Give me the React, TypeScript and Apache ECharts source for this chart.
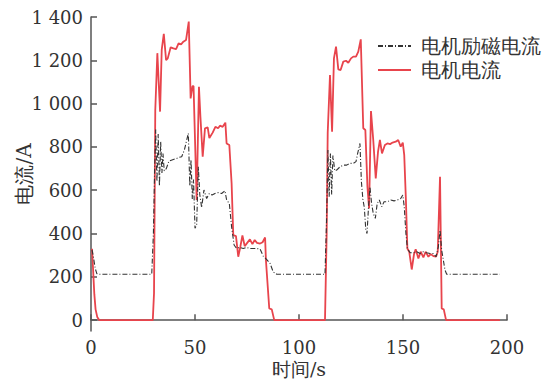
import React, { useEffect, useRef } from "react";
import * as echarts from "echarts";

const xTicks = [0, 50, 100, 150, 200];
const yTicks = [0, 200, 400, 600, 800, 1000, 1200, 1400];

const seriesNames = ["电机励磁电流", "电机电流"];

// 电机电流 (red)
const motorTime = [0.5,1.6,2.2,3,4,29.7,30.3,30.9,31.9,33.2,34,35,36.1,36.9,38.3,39.6,40.9,42.1,43.3,44.4,45.7,47,47.9,48.8,49.3,50.8,51.9,52.6,53.7,54.8,56.1,56.9,58.5,59.8,61.1,62,63.3,64.6,65.2,66.5,67.6,68.4,69.7,70.8,71.8,72.8,73.9,75.1,76.4,77.6,78.7,79.8,81.3,82.5,83.7,84.1,85.7,86.9,88.1,112.5,113.3,113.8,114.9,115.9,116.8,117.8,118.9,120,121.3,122.6,123.7,125,126.1,127.4,128.5,129.7,130.9,131.9,132.9,133.7,134.6,135.7,136.9,138,138.9,139.9,141.3,142.5,143.8,145,146.5,147.7,148.9,149.9,150.6,151.4,152.1,153,154.2,155.3,156.1,157.4,158.5,159.8,160.9,162.2,163.3,164.6,165.9,166.7,167.8,168.6,169.6,170.7,196.6];
const motorValues = [330,120,50,15,0,0,125,970,1233,963,1248,1322,1201,1209,1260,1255,1252,1278,1274,1286,1294,1379,1024,1081,1081,555,1078,940,755,886,890,841,866,893,886,898,893,912,816,809,632,393,388,293,339,391,342,357,373,351,370,357,354,360,382,277,54,50,0,0,400,864,1132,870,1209,1263,1158,1155,1194,1198,1189,1209,1217,1217,1240,1297,886,878,616,516,966,832,655,778,832,770,809,816,813,820,824,832,801,820,762,555,331,316,234,305,327,285,316,290,316,293,305,296,293,316,662,54,50,0,0];

// 电机励磁电流 (black dash-dot)
const fieldTime = [0.5,1.2,2,2.8,4,29.2,30,30.6,31.1,31.7,32.3,32.9,33.5,34.1,34.6,35.2,36.2,37.5,39.6,41.2,42.5,43.6,44.9,46,46.8,47.5,48.1,48.7,49.3,50,50.8,51.6,52.3,53.2,54.3,55.6,56.9,58.2,59.6,61.2,62.8,64.4,65.2,66.5,67.6,68.8,70,71.3,73.2,74.8,76.4,78,79.7,81.3,82.8,84.5,86.1,87.6,89.3,112.5,113.3,113.9,114.5,115.1,115.7,116.3,117.2,118.1,119.7,121.3,122.9,124.5,126.1,127.4,128.2,129.3,130,130.7,131.4,132.1,132.7,133.4,134.1,134.9,135.7,136.7,137.6,138.6,139.8,140.9,142.5,144.1,145.7,147.3,148.9,149.9,150.6,151.4,152.1,153.4,155,156.6,158.2,159.8,161.4,163,164.6,165.9,167,167.8,168.6,169.4,170.2,171,196.6];
const fieldValues = [325,290,240,215,212,212,400,700,880,640,860,620,824,680,770,690,700,735,742,747,752,755,786,832,863,620,740,560,650,424,440,708,580,520,601,562,585,578,585,589,585,598,555,539,431,347,331,336,331,336,331,331,331,328,296,280,262,223,212,212,477,786,570,770,580,760,690,693,708,716,716,724,724,732,770,816,640,560,520,420,400,520,616,539,493,470,539,555,524,547,547,555,551,555,562,578,524,400,331,311,311,316,308,316,311,308,308,293,339,416,323,277,231,212,212];

const zip = (t: number[], v: number[]) => t.map((x, i) => [x, v[i]]);

const FONT = "DejaVu Serif";
const TEXT = "#333";
const AXIS = "#555";

const fmtY = (v: number) =>
  v >= 1000 ? `${Math.floor(v / 1000)} ${String(v % 1000).padStart(3, "0")}` : String(v);

export default function App() {
  const ref = useRef<HTMLDivElement>(null);
  useEffect(() => {
    if (!ref.current) return;
    const chart = echarts.init(ref.current, undefined, { renderer: "svg" });
    chart.setOption({
      animation: false,
      textStyle: { fontFamily: FONT },
      grid: { left: 91, right: 45, top: 17, bottom: 49, outerBoundsMode: "none", containLabel: false },
      legend: {
        orient: "vertical",
        left: 372,
        top: 31,
        itemWidth: 33,
        itemHeight: 12,
        itemGap: 4,
        data: seriesNames,
        itemStyle: { opacity: 0 },
        textStyle: { fontSize: 20, color: TEXT, fontFamily: FONT, padding: [0, 0, 0, 5], lineHeight: 20 },
      },
      xAxis: {
        type: "value",
        min: 0,
        max: 200,
        interval: 50,
        name: "时间/s",
        nameLocation: "middle",
        nameGap: 28,
        nameMoveOverlap: false,
        nameTextStyle: { fontSize: 19, color: TEXT, fontFamily: FONT, lineHeight: 19 },
        axisLine: { show: true, lineStyle: { color: AXIS, width: 1.5 } },
        axisTick: { show: true, inside: true, length: 6, lineStyle: { color: AXIS, width: 1.5 }, customValues: xTicks },
        axisLabel: { fontSize: 18, color: TEXT, margin: 7, fontFamily: FONT, customValues: xTicks },
        splitLine: { show: false },
      },
      yAxis: {
        type: "value",
        min: -50,
        max: 1400,
        name: "电流/A",
        nameLocation: "middle",
        nameGap: 57,
        nameMoveOverlap: false,
        nameTextStyle: { fontSize: 20, color: TEXT, fontFamily: FONT },
        axisLine: { show: true, lineStyle: { color: AXIS, width: 1.5 } },
        axisTick: { show: true, inside: true, length: 6, lineStyle: { color: AXIS, width: 1.5 }, customValues: yTicks },
        axisLabel: { fontSize: 18, color: TEXT, margin: 8, fontFamily: FONT, customValues: yTicks, formatter: fmtY },
        splitLine: { show: false },
      },
      series: [
        {
          name: seriesNames[0],
          type: "line",
          symbol: "none",
          data: zip(fieldTime, fieldValues),
          lineStyle: { color: "#333", width: 1.1, type: [5, 2, 1, 2] },
          itemStyle: { color: "#333" },
          z: 3,
        },
        {
          name: seriesNames[1],
          type: "line",
          symbol: "none",
          data: zip(motorTime, motorValues),
          lineStyle: { color: "#e8444c", width: 1.8 },
          itemStyle: { color: "#e8444c" },
          z: 2,
        },
      ],
    });
    return () => chart.dispose();
  }, []);
  return <div ref={ref} style={{ width: 552, height: 380, position: "absolute", left: 0, top: 0 }} />;
}
